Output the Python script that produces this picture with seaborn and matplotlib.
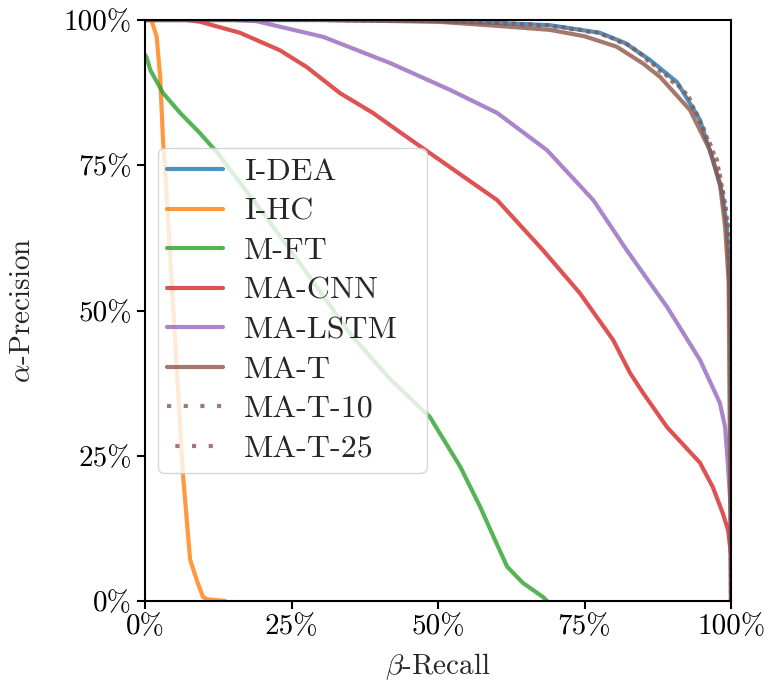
import numpy as np
import pandas as pd
import matplotlib
matplotlib.use("Agg")
import matplotlib.pyplot as plt
from matplotlib.ticker import PercentFormatter
import seaborn as sns

# ---- data ----
idea_r = [0.0, 0.30, 0.50, 0.60, 0.691, 0.776, 0.82, 0.862, 0.908, 0.947, 0.969, 0.985, 0.993, 0.996, 0.999, 1.0]
idea_p = [1.0, 1.0, 0.998, 0.995, 0.991, 0.978, 0.96, 0.931, 0.893, 0.828, 0.759, 0.702, 0.644, 0.587, 0.45, 0.0]

ihc_r = [0.0, 0.011, 0.02, 0.026, 0.031, 0.034, 0.048, 0.065, 0.077, 0.090, 0.099, 0.106, 0.137]
ihc_p = [1.0, 1.0, 0.971, 0.90, 0.788, 0.75, 0.506, 0.215, 0.071, 0.031, 0.007, 0.003, 0.0]

mft_r = [0.0, 0.003, 0.009, 0.031, 0.060, 0.094, 0.123, 0.20, 0.276, 0.35, 0.42, 0.486, 0.538, 0.572, 0.595, 0.618, 0.645, 0.679, 0.686]
mft_p = [0.94, 0.935, 0.914, 0.874, 0.840, 0.805, 0.772, 0.67, 0.565, 0.46, 0.38, 0.317, 0.231, 0.162, 0.11, 0.059, 0.031, 0.007, 0.0]

macnn_r = [0.0, 0.07, 0.094, 0.162, 0.230, 0.276, 0.333, 0.389, 0.435, 0.520, 0.601, 0.679, 0.742, 0.799, 0.828, 0.850, 0.891, 0.947, 0.969, 0.986, 0.995, 1.0, 1.0]
macnn_p = [1.0, 1.0, 0.997, 0.978, 0.948, 0.919, 0.874, 0.840, 0.807, 0.747, 0.690, 0.604, 0.530, 0.449, 0.392, 0.358, 0.299, 0.238, 0.196, 0.151, 0.122, 0.08, 0.0]

malstm_r = [0.0, 0.15, 0.19, 0.304, 0.418, 0.520, 0.601, 0.686, 0.765, 0.822, 0.862, 0.891, 0.947, 0.981, 0.990, 0.995, 1.0, 1.0]
malstm_p = [1.0, 1.0, 0.998, 0.971, 0.926, 0.880, 0.840, 0.776, 0.690, 0.604, 0.547, 0.506, 0.415, 0.341, 0.299, 0.231, 0.15, 0.0]

mat_r = [0.0, 0.30, 0.50, 0.60, 0.691, 0.75, 0.805, 0.85, 0.879, 0.93, 0.964, 0.981, 0.990, 0.996, 1.0]
mat_p = [1.0, 1.0, 0.997, 0.99, 0.983, 0.972, 0.954, 0.925, 0.902, 0.845, 0.776, 0.719, 0.644, 0.55, 0.0]

mat10_r = [0.0, 0.30, 0.50, 0.60, 0.691, 0.776, 0.83, 0.879, 0.925, 0.952, 0.976, 0.990, 0.995, 0.999, 1.0]
mat10_p = [1.0, 1.0, 0.998, 0.995, 0.991, 0.978, 0.955, 0.914, 0.874, 0.816, 0.759, 0.685, 0.644, 0.50, 0.0]

mat25_r = [0.0, 0.30, 0.50, 0.60, 0.691, 0.776, 0.83, 0.879, 0.925, 0.952, 0.976, 0.990, 0.995, 0.999, 1.0]
mat25_p = [1.0, 1.0, 0.998, 0.995, 0.990, 0.977, 0.954, 0.912, 0.872, 0.814, 0.757, 0.683, 0.642, 0.50, 0.0]

labels = ["I-DEA", "I-HC", "M-FT", "MA-CNN", "MA-LSTM", "MA-T", "MA-T-10", "MA-T-25"]
series = [(idea_r, idea_p), (ihc_r, ihc_p), (mft_r, mft_p), (macnn_r, macnn_p),
          (malstm_r, malstm_p), (mat_r, mat_p), (mat10_r, mat10_p), (mat25_r, mat25_p)]

sns.set_style("ticks")
plt.rcParams.update({
    "font.family": "serif",
    "font.serif": ["cmr10"],
    "mathtext.fontset": "cm",
    "axes.formatter.use_mathtext": True,
    "axes.linewidth": 1.5,
    "axes.edgecolor": "black",
    "xtick.color": "black",
    "ytick.color": "black",
    "xtick.major.width": 1.5,
    "ytick.major.width": 1.5,
    "xtick.major.size": 6,
    "ytick.major.size": 6,
})

fig = plt.figure(figsize=(7.71, 6.89), dpi=100)
ax = fig.add_axes([145/771, 1-601/689, 586/771, 581/689])

pal = sns.color_palette("tab10")
colors = [pal[0], pal[1], pal[2], pal[3], pal[4], pal[5], pal[5], pal[5]]
styles = ["-", "-", "-", "-", "-", "-", (0, (1, 3)), (2, (1, 3))]

for lab, (r, p), c, ls in zip(labels, series, colors, styles):
    df = pd.DataFrame({"recall": r, "precision": p})
    sns.lineplot(data=df, x="recall", y="precision", ax=ax, color=c, linestyle=ls,
                 linewidth=3, alpha=0.8, label=lab, estimator=None, sort=False)

ax.set_xlim(0, 1)
ax.set_ylim(0, 1)
ticks = [0, 0.25, 0.5, 0.75, 1.0]
ax.set_xticks(ticks)
ax.set_yticks(ticks)
ax.xaxis.set_major_formatter(PercentFormatter(1.0, decimals=0))
ax.yaxis.set_major_formatter(PercentFormatter(1.0, decimals=0))
ax.tick_params(labelsize=21)
ax.set_xlabel(r"$\beta$-Recall", fontsize=21, labelpad=8)
ax.set_ylabel(r"$\alpha$-Precision", fontsize=21, labelpad=20)
ax.legend(loc="center left", bbox_to_anchor=(0.022, 0.5, 0.459, 0.0), mode="expand",
          fontsize=23, borderaxespad=0.0, labelspacing=0.35,
          handlelength=1.75, handletextpad=0.65, borderpad=0.3)

fig.savefig("out.png", dpi=100)
